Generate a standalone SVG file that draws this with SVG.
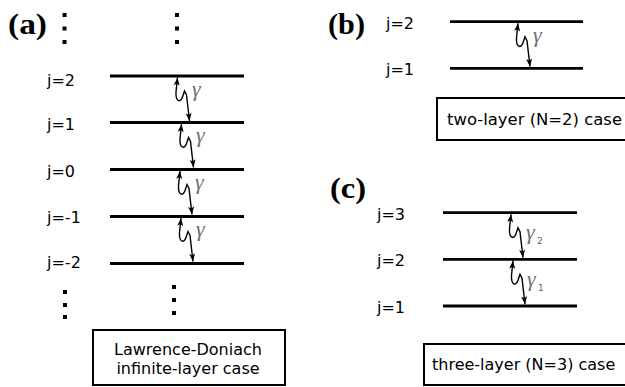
<svg xmlns="http://www.w3.org/2000/svg" width="625" height="387" viewBox="0 0 625 387">
  <defs>
    <marker id="tip" viewBox="-9 -4 10 8" refX="0" refY="0" markerWidth="10" markerHeight="8" markerUnits="userSpaceOnUse" orient="auto-start-reverse">
      <path d="M0,0 L-8,-3 L-6,0 L-8,3 Z" fill="#000"/>
    </marker>
    <!-- wavy coupling arrow between two adjacent layers; origin = upper tip on upper layer -->
    <path id="wave" d="M0,1.5 L-1.5,16 C-2,26 3,27 5,21 L7,15 L9,19 L12,45" />
  </defs>
  <style>
    .panel { font-family: "Liberation Serif", "Times New Roman", serif; font-weight: bold; font-size: 30px; fill: #000; }
    .lbl { font-family: "DejaVu Sans", "Noto Sans", sans-serif; font-size: 16px; fill: #000; }
    .layer { stroke: #000; stroke-width: 2.8; }
    .wv { fill: none; stroke: #000; stroke-width: 1.4; marker-start: url(#tip); marker-end: url(#tip); }
    .gam { font-family: "Liberation Serif", "Times New Roman", serif; font-style: italic; font-size: 22px; fill: #707070; }
    .sub { font-family: "DejaVu Sans", sans-serif; font-size: 9px; fill: #666; }
    .box { fill: #fff; stroke: #000; stroke-width: 2; }
    .dot { fill: #000; }
  </style>

  <!-- panel (a): Lawrence-Doniach stack -->
  <g id="panel-a">
    <text class="panel" x="8" y="34" textLength="39" lengthAdjust="spacingAndGlyphs">(a)</text>
    <g id="dots-a-top">
      <rect class="dot" x="62.5" y="13" width="4" height="4"/>
      <rect class="dot" x="62.5" y="26.5" width="4" height="4"/>
      <rect class="dot" x="62.5" y="40" width="4" height="4"/>
      <rect class="dot" x="175" y="13" width="4" height="4"/>
      <rect class="dot" x="175" y="26.5" width="4" height="4"/>
      <rect class="dot" x="175" y="40" width="4" height="4"/>
    </g>
    <g id="layer-a-2"><line class="layer" x1="110" y1="76" x2="244" y2="76"/><text class="lbl" x="47" y="86">j=2</text></g>
    <g id="layer-a-1"><line class="layer" x1="110" y1="122.5" x2="244" y2="122.5"/><text class="lbl" x="47" y="130">j=1</text></g>
    <g id="layer-a-0"><line class="layer" x1="110" y1="169.5" x2="244" y2="169.5"/><text class="lbl" x="47" y="177">j=0</text></g>
    <g id="layer-a-m1"><line class="layer" x1="110" y1="216.5" x2="244" y2="216.5"/><text class="lbl" x="47" y="223">j=-1</text></g>
    <g id="layer-a-m2"><line class="layer" x1="110" y1="263.5" x2="244" y2="263.5"/><text class="lbl" x="47" y="268">j=-2</text></g>
    <g id="dots-a-bottom">
      <rect class="dot" x="63" y="290" width="4" height="4"/>
      <rect class="dot" x="63" y="303" width="4" height="4"/>
      <rect class="dot" x="63" y="315" width="4" height="4"/>
      <rect class="dot" x="172" y="285" width="4" height="4"/>
      <rect class="dot" x="172" y="298" width="4" height="4"/>
      <rect class="dot" x="172" y="311" width="4" height="4"/>
    </g>
    <g id="box-a">
      <rect class="box" x="93" y="330" width="192" height="55"/>
      <text class="lbl" x="188" y="355" text-anchor="middle">Lawrence-Doniach</text>
      <text class="lbl" x="188" y="374" text-anchor="middle">infinite-layer case</text>
    </g>
  </g>

  <!-- panel (b): two layers -->
  <g id="panel-b">
    <text class="panel" x="328" y="34" textLength="37" lengthAdjust="spacingAndGlyphs">(b)</text>
    <g id="layer-b-2"><line class="layer" x1="450" y1="21.7" x2="583" y2="21.7"/><text class="lbl" x="386" y="29">j=2</text></g>
    <g id="layer-b-1"><line class="layer" x1="450" y1="68.3" x2="583" y2="68.3"/><text class="lbl" x="386" y="75">j=1</text></g>
    <g id="box-b">
      <rect class="box" x="437" y="98" width="200" height="42"/>
      <text class="lbl" x="447" y="125" textLength="175" lengthAdjust="spacingAndGlyphs">two-layer (N=2) case</text>
    </g>
  </g>

  <!-- panel (c): three layers -->
  <g id="panel-c">
    <text class="panel" x="330" y="198" textLength="36" lengthAdjust="spacingAndGlyphs">(c)</text>
    <g id="layer-c-3"><line class="layer" x1="443" y1="212.7" x2="577" y2="212.7"/><text class="lbl" x="377" y="220">j=3</text></g>
    <g id="layer-c-2"><line class="layer" x1="443" y1="259.3" x2="577" y2="259.3"/><text class="lbl" x="377" y="266">j=2</text></g>
    <g id="layer-c-1"><line class="layer" x1="443" y1="306" x2="577" y2="306"/><text class="lbl" x="377" y="313">j=1</text></g>
    <g id="box-c">
      <rect class="box" x="424" y="344" width="215" height="41"/>
      <text class="lbl" x="432" y="370">three-layer (N=3) case</text>
    </g>
  </g>

  <!-- interlayer couplings -->
  <g id="connectors">
    <use class="wv" href="#wave" x="177.5" y="76"/>
    <use class="wv" href="#wave" x="181.5" y="122.5"/>
    <use class="wv" href="#wave" x="180" y="169.5"/>
    <use class="wv" href="#wave" x="181" y="216.5"/>
    <use class="wv" href="#wave" x="518" y="21.7"/>
    <use class="wv" href="#wave" x="511" y="212.7"/>
    <use class="wv" href="#wave" x="513" y="259.3"/>
    <text class="gam" x="192" y="96">γ</text>
    <text class="gam" x="196" y="142">γ</text>
    <text class="gam" x="195" y="189">γ</text>
    <text class="gam" x="196" y="236">γ</text>
    <text class="gam" x="533" y="42">γ</text>
    <text class="gam" x="526" y="239">γ</text>
    <text class="sub" x="537" y="244">2</text>
    <text class="gam" x="527" y="286">γ</text>
    <text class="sub" x="538" y="291">1</text>
  </g>
</svg>
